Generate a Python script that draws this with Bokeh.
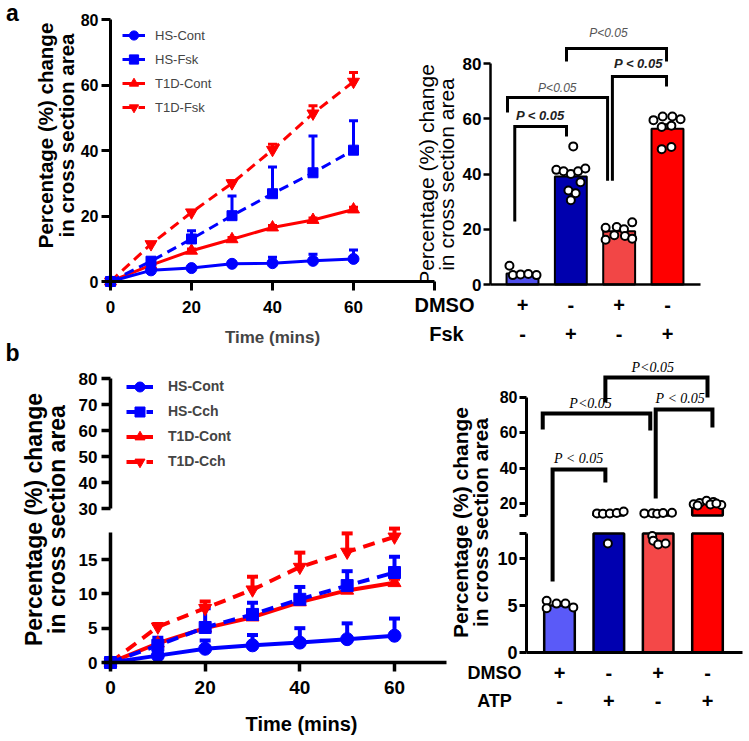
import math
from bokeh.plotting import figure
from bokeh.models import (Range1d, LinearAxis, FixedTicker, Whisker, TeeHead,
                          Label, Legend, ColumnDataSource)
from bokeh.embed import file_html
from bokeh.resources import INLINE
from bokeh.core.properties import value

# ---------------- data ----------------
time_mins = [0, 10, 20, 30, 40, 50, 60]

a_hs_cont = [0, 3.4, 4.1, 5.4, 5.6, 6.3, 6.9]
a_hs_cont_err = [0, 0.4, 0.4, 0.5, 1.8, 2.0, 2.7]
a_hs_fsk = [0, 6.2, 13.0, 20.1, 26.8, 33.2, 40.1]
a_hs_fsk_err = [0, 1.0, 2.5, 6.0, 8.2, 11.2, 9.0]
a_t1d_cont = [0, 5.0, 9.4, 12.9, 16.5, 18.8, 22.0]
a_t1d_cont_err = [0, 0.3, 0.5, 0.5, 0.6, 0.6, 0.7]
a_t1d_fsk = [0, 11.4, 21.1, 30.0, 40.2, 51.3, 61.0]
a_t1d_fsk_err = [0, 0.4, 0.6, 0.8, 1.7, 2.4, 2.8]

b_hs_cont = [0, 1.0, 2.0, 2.5, 2.9, 3.4, 3.9]
b_hs_cont_err = [0, 0.6, 1.2, 1.5, 2.1, 2.3, 2.5]
b_hs_cch = [0, 2.5, 5.1, 7.0, 9.2, 11.2, 13.1]
b_hs_cch_err = [0, 1.1, 2.8, 1.7, 1.8, 2.1, 2.3]
b_t1d_cont = [0, 2.8, 5.0, 6.6, 8.8, 10.5, 11.6]
b_t1d_cont_err = [0, 0.3, 0.4, 0.5, 0.5, 0.5, 0.6]
b_t1d_cch = [0, 5.2, 7.9, 10.6, 13.9, 16.1, 18.3]
b_t1d_cch_err = [0, 0.4, 1.0, 1.9, 2.1, 2.7, 1.2]

bar_pos = [1, 2, 3, 4]
a_dmso = ["+", "-", "+", "-"]
a_fsk = ["-", "+", "-", "+"]
a_bar_mean = [4.0, 39.1, 19.3, 56.4]
a_bar_sem = [0.6, 1.8, 0.7, 1.6]
a_dot_off = [[-0.27, -0.2, -0.04, 0.12, 0.29],
             [0.05, -0.3, -0.15, 0.0, 0.15, 0.3, 0.2, -0.05, 0.1, 0.0],
             [-0.28, -0.05, 0.1, 0.27, -0.28, -0.1, 0.12, 0.27],
             [-0.29, -0.1, 0.1, 0.27, -0.12, 0.08, -0.12, 0.08]]
a_dot_val = [[6.8, 3.4, 3.6, 3.8, 3.4],
             [50.0, 41.5, 41.0, 40.0, 41.0, 42.0, 37.0, 34.0, 33.0, 30.5],
             [20.5, 20.8, 20.0, 22.5, 16.2, 17.8, 17.6, 16.6],
             [59.5, 60.8, 60.8, 59.8, 57.0, 57.5, 49.0, 49.8]]

b_dmso = ["+", "-", "+", "-"]
b_atp = ["-", "+", "-", "+"]
b_bar_mean = [5.0, 14.1, 13.3, 19.7]
b_bar_sem = [0.15, 0.5, 0.4, 0.3]
b_dot_off = [[-0.26, -0.06, 0.12, -0.26, 0.28],
             [-0.24, -0.12, 0.02, 0.16, 0.30, -0.02],
             [-0.28, -0.12, -0.02, 0.1, 0.28, -0.12, -0.1, 0.0, 0.15],
             [-0.28, -0.16, -0.02, 0.12, 0.28, -0.2, 0.06, 0.18]]
b_dot_val = [[5.5, 5.2, 5.2, 4.7, 4.8],
             [14.4, 14.2, 14.3, 14.6, 15.5, 11.6],
             [14.4, 14.5, 14.2, 14.6, 14.8, 12.4, 11.9, 11.5, 11.6],
             [19.6, 20.3, 21.6, 20.8, 19.2, 18.9, 19.5, 20.0]]

# significance brackets (bar units / axis units)
a_brk_x = [(0.84, 1.91), (0.69, 2.76), (2.86, 3.98), (1.91, 3.98)]
a_brk_y = [(22.8, 57.2, 53.6), (62.3, 67.7, 37.6), (37.6, 75.3, 71.7), (80.7, 85.4, 80.7)]
a_p_text = ["P < 0.05", "P<0.05", "P < 0.05", "P<0.05"]
a_p_pos = [(1.37, 61.2), (1.72, 71.3), (3.40, 80.0), (2.78, 90.9)]

b_brk_x = [(0.86, 1.93), (0.66, 2.84), (2.95, 4.1), (1.93, 4.0)]
b_brk_left_base = [7.55, 61.9, 22.8, 77.2]
b_brk_left_seg = ["lower", "upper", "upper", "upper"]
b_brk_top = [39.2, 70.9, 73.2, 91.3]
b_brk_right_base = [31.9, 61.3, 63.0, 80.0]
b_p_text = ["P < 0.05", "P<0.05", "P < 0.05", "P<0.05"]
b_p_pos = [(1.39, 45.5), (1.63, 76.6), (3.45, 79.4), (2.89, 97.0)]

BLUE = "#0000FF"
RED = "#FF0000"
a_bar_colors = ["#5050EC", "#0000AE", "#F24646", "#FF0000"]
b_bar_colors = ["#5A5AF8", "#0000B0", "#F44848", "#FF0000"]
FONT = "Liberation Sans"

# ---------------- geometry helpers ----------------
W, H = 747, 739
OX, OY = 0, 0


class Scale:
    def __init__(self, v0, p0, v1, p1):
        self.v0, self.p0 = v0, p0
        self.k = (v1 - v0) / (p1 - p0)

    def v(self, px):
        return self.v0 + (px - self.p0) * self.k

    def p(self, v):
        return self.p0 + (v - self.v0) / self.k

    def xrange(self):
        return Range1d(start=self.v(OX), end=self.v(OX + W))

    def yrange(self):
        return Range1d(start=self.v(OY + H), end=self.v(OY))


page_x = Scale(0, 0, 1, 1)
page_y = Scale(0, 0, 1, 1)
sx = {"a1": Scale(0, 110, 60, 353), "a2": Scale(1, 522, 4, 667),
      "b1": Scale(0, 110, 60, 394), "b2": Scale(1, 559, 4, 707)}
sy = {"a1": Scale(0, 281, 80, 19), "a2": Scale(0, 284, 80, 63),
      "b1l": Scale(0, 662, 15, 559), "b1u": Scale(30, 508, 80, 378),
      "b2l": Scale(0, 652, 10, 558), "b2u": Scale(20, 503, 80, 397)}

p = figure(width=W, height=H, x_range=page_x.xrange(), y_range=page_y.yrange(),
           x_axis_type=None, y_axis_type=None, toolbar_location=None,
           output_backend="svg", min_border=0, title=None)
p.outline_line_color = None
p.background_fill_color = "white"
p.border_fill_color = "white"
p.extra_x_ranges = {k + "x": s.xrange() for k, s in sx.items()}
p.extra_y_ranges = {k + "y": s.yrange() for k, s in sy.items()}


def add_axis(side, xr, yr, loc, bounds, ticks, size, tick_out, lw, standoff,
             overrides=None):
    ax = LinearAxis(x_range_name=xr, y_range_name=yr, fixed_location=loc,
                    bounds=bounds, ticker=FixedTicker(ticks=ticks, minor_ticks=[]))
    ax.axis_line_width = lw
    ax.axis_line_color = "black"
    ax.major_tick_line_width = lw
    ax.major_tick_line_color = "black"
    ax.major_tick_out = tick_out
    ax.major_tick_in = 0
    ax.minor_tick_out = 0
    ax.minor_tick_in = 0
    ax.major_label_text_font = FONT
    ax.major_label_text_font_size = f"{size}px"
    ax.major_label_text_font_style = "bold"
    ax.major_label_text_color = "black"
    ax.major_label_standoff = standoff
    if overrides:
        ax.major_label_overrides = overrides
    p.add_layout(ax, side)
    return ax


def label(text, x, y, size, style="bold", angle=0.0, font=FONT, color="black"):
    p.add_layout(Label(x=x, y=y, text=text, angle=angle, text_font=font,
                       text_font_size=f"{size}px", text_font_style=style,
                       text_color=color, text_align="center",
                       text_baseline="middle"))


def series(xr, yr, ys, errs, color, dash, marker, size, lw, cap):
    src = ColumnDataSource(dict(x=time_mins, y=ys))
    esrc = ColumnDataSource(dict(
        x=[t for t, e in zip(time_mins, errs) if e > 0],
        y=[v for v, e in zip(ys, errs) if e > 0],
        top=[v + e for v, e in zip(ys, errs) if e > 0]))
    p.add_layout(Whisker(source=esrc, base="x", lower="y", upper="top",
                         line_color=color, line_width=lw,
                         upper_head=TeeHead(size=cap, line_color=color, line_width=lw),
                         lower_head=None, x_range_name=xr, y_range_name=yr))
    ln = p.line("x", "y", source=src, line_color=color, line_width=lw,
                line_dash=dash, x_range_name=xr, y_range_name=yr)
    mk = p.scatter("x", "y", source=src, marker=marker, size=size,
                   fill_color=color, line_color=color, x_range_name=xr,
                   y_range_name=yr)
    return [ln, mk]


# ================= panel a, left: time course =================
add_axis("left", "a1x", "a1y", 0, (0, 80), [0, 20, 40, 60, 80], 16, 9, 3, 3)
ax_a1 = add_axis("below", "a1x", "a1y", 0, (0, 80), [0, 20, 40, 60, 80], 17, 9, 3, 7,
                 overrides={80: " "})
ax_a1.axis_label = "Time (mins)"
ax_a1.axis_label_text_font = FONT
ax_a1.axis_label_text_font_size = "17px"
ax_a1.axis_label_text_font_style = "bold"
ax_a1.axis_label_standoff = 8

r_a_t1d_fsk = series("a1x", "a1y", a_t1d_fsk, a_t1d_fsk_err, RED, "10 6", "inverted_triangle", 12, 3, 9)
r_a_t1d_cont = series("a1x", "a1y", a_t1d_cont, a_t1d_cont_err, RED, "solid", "triangle", 12, 3, 9)
r_a_hs_fsk = series("a1x", "a1y", a_hs_fsk, a_hs_fsk_err, BLUE, "10 6", "square", 10, 3, 9)
r_a_hs_cont = series("a1x", "a1y", a_hs_cont, a_hs_cont_err, BLUE, "solid", "circle", 11, 3, 9)

leg_a = Legend(items=[("HS-Cont", r_a_hs_cont), ("HS-Fsk", r_a_hs_fsk),
                      ("T1D-Cont", r_a_t1d_cont), ("T1D-Fsk", r_a_t1d_fsk)],
               location=(122 - OX, H + OY - 23 - 96), glyph_width=23, glyph_height=24,
               label_height=24, spacing=0, padding=0, margin=0, label_standoff=10,
               border_line_color=None, background_fill_alpha=0,
               label_text_font=FONT, label_text_font_size="13px")
p.add_layout(leg_a)

label("a", 12, 12, 23)
label("Percentage (%) change", 45, 135, 20.5, angle=math.pi / 2)
label("in cross section area", 66, 135, 20.5, angle=math.pi / 2)

# ================= panel a, right: bars =================
a2x, a2y = sx["a2"], sy["a2"]
add_axis("left", "a2x", "a2y", a2x.v(490), (0, 80), [0, 20, 40, 60, 80], 17, 7, 2.5, 2)
add_axis("below", "a2x", "a2y", 0, (a2x.v(490), a2x.v(700)), [], 10, 0, 2.5, 0)

p.vbar(x=bar_pos, top=a_bar_mean, bottom=0, width=0.66, fill_color=a_bar_colors,
       line_color="black", line_width=2, x_range_name="a2x", y_range_name="a2y")
wsrc_a = ColumnDataSource(dict(x=bar_pos, lo=[m - s for m, s in zip(a_bar_mean, a_bar_sem)],
                               hi=[m + s for m, s in zip(a_bar_mean, a_bar_sem)]))
p.add_layout(Whisker(source=wsrc_a, base="x", lower="lo", upper="hi", line_color="black",
                     line_width=2, upper_head=TeeHead(size=12, line_width=2),
                     lower_head=TeeHead(size=12, line_width=2),
                     x_range_name="a2x", y_range_name="a2y"))
p.scatter(x=[b + o for b, offs in zip(bar_pos, a_dot_off) for o in offs],
          y=[v for vals in a_dot_val for v in vals], marker="circle", size=8,
          fill_color="white", line_color="black", line_width=2,
          x_range_name="a2x", y_range_name="a2y")

p.multi_line(xs=[[x1, x1, x2, x2] for x1, x2 in a_brk_x],
             ys=[[y1, yt, yt, y2] for y1, yt, y2 in a_brk_y],
             line_color="black", line_width=3, line_join="miter",
             x_range_name="a2x", y_range_name="a2y")
for txt, (tx, ty) in zip(a_p_text, a_p_pos):
    bold = " " in txt
    p.text(x=[tx], y=[ty], text=[txt], text_align="center", text_baseline="middle",
           text_font=value(FONT), text_font_size="13px" if bold else "12px",
           text_font_style="bold italic" if bold else "italic",
           text_color="#222222" if bold else "#555555",
           x_range_name="a2x", y_range_name="a2y")

p.text(x=bar_pos, y=[a2y.v(304)] * 4, text=a_dmso, text_align="center",
       text_baseline="middle", text_font=value(FONT), text_font_size="20px",
       text_font_style="bold", x_range_name="a2x", y_range_name="a2y")
p.text(x=bar_pos, y=[a2y.v(333)] * 4, text=a_fsk, text_align="center",
       text_baseline="middle", text_font=value(FONT), text_font_size="20px",
       text_font_style="bold", x_range_name="a2x", y_range_name="a2y")
label("DMSO", 444, 304, 20)
label("Fsk", 446, 333, 20)
label("Percentage (%) change", 426, 174, 21, style="normal", angle=math.pi / 2)
label("in cross section area", 446, 174, 21, style="normal", angle=math.pi / 2)

# ================= panel b, left: time course (broken axis) =================
b1x, b1l, b1u = sx["b1"], sy["b1l"], sy["b1u"]
add_axis("left", "b1x", "b1ly", 0, (0, b1l.v(532)), [0, 5, 10, 15], 17, 9, 3.5, 4)
add_axis("left", "b1x", "b1uy", 0, (30, 80), [30, 40, 50, 60, 70, 80], 17, 9, 3.5, 4)
add_axis("below", "b1x", "b1ly", 0, (0, b1x.v(446)), [0, 20, 40, 60], 19, 9, 3.5, 9)

r_b_t1d_cch = series("b1x", "b1ly", b_t1d_cch, b_t1d_cch_err, RED, "12 8", "inverted_triangle", 13, 4, 11)
r_b_t1d_cont = series("b1x", "b1ly", b_t1d_cont, b_t1d_cont_err, RED, "solid", "triangle", 13, 4, 11)
r_b_hs_cch = series("b1x", "b1ly", b_hs_cch, b_hs_cch_err, BLUE, "12 8", "square", 12, 4, 11)
r_b_hs_cont = series("b1x", "b1ly", b_hs_cont, b_hs_cont_err, BLUE, "solid", "circle", 13, 4, 11)

leg_b = Legend(items=[("HS-Cont", r_b_hs_cont), ("HS-Cch", r_b_hs_cch),
                      ("T1D-Cont", r_b_t1d_cont), ("T1D-Cch", r_b_t1d_cch)],
               location=(126 - OX, H + OY - 373.5 - 100), glyph_width=27, glyph_height=25,
               label_height=25, spacing=0, padding=0, margin=0, label_standoff=15,
               border_line_color=None, background_fill_alpha=0,
               label_text_font=FONT, label_text_font_size="14px",
               label_text_font_style="bold")
p.add_layout(leg_b)

label("b", 12, 352, 23)
label("Percentage (%) change", 33, 519, 23, angle=math.pi / 2)
label("in cross section area", 56, 519, 23, angle=math.pi / 2)
label("Time (mins)", 301, 723, 20)

# ================= panel b, right: bars (broken axis) =================
b2x, b2l, b2u = sx["b2"], sy["b2l"], sy["b2u"]
lower_top = round(b2l.v(533), 3)
upper_bottom = round(b2u.v(515), 3)
ax_loc = b2x.v(526)
add_axis("left", "b2x", "b2ly", ax_loc, (0, lower_top), [0, 5, 10, lower_top], 18, 7, 3, 2,
         overrides={lower_top: " "})
add_axis("left", "b2x", "b2uy", ax_loc, (upper_bottom, 80), [upper_bottom, 20, 40, 60, 80],
         16, 7, 3, 2, overrides={upper_bottom: " "})
add_axis("below", "b2x", "b2ly", 0, (ax_loc, b2x.v(742)), [], 10, 0, 3, 0)

p.vbar(x=bar_pos, top=[min(m, lower_top) for m in b_bar_mean], bottom=0, width=0.62,
       fill_color=b_bar_colors, line_color="black", line_width=2.5,
       x_range_name="b2x", y_range_name="b2ly")
up_idx = [i for i, m in enumerate(b_bar_mean) if m > upper_bottom]
p.vbar(x=[bar_pos[i] for i in up_idx], top=[b_bar_mean[i] for i in up_idx],
       bottom=upper_bottom, width=0.62, fill_color=[b_bar_colors[i] for i in up_idx],
       line_color="black", line_width=2.5, x_range_name="b2x", y_range_name="b2uy")
wsrc_b = ColumnDataSource(dict(x=bar_pos[:1], lo=[b_bar_mean[0] - b_bar_sem[0]],
                               hi=[b_bar_mean[0] + b_bar_sem[0]]))
p.add_layout(Whisker(source=wsrc_b, base="x", lower="lo", upper="hi", line_color="black",
                     line_width=2, upper_head=TeeHead(size=14, line_width=2),
                     lower_head=TeeHead(size=14, line_width=2),
                     x_range_name="b2x", y_range_name="b2ly"))
dots = [(b + o, v) for b, offs, vals in zip(bar_pos, b_dot_off, b_dot_val)
        for o, v in zip(offs, vals)]
p.scatter(x=[d[0] for d in dots if d[1] <= lower_top], y=[d[1] for d in dots if d[1] <= lower_top],
          marker="circle", size=8, fill_color="white", line_color="black", line_width=2,
          x_range_name="b2x", y_range_name="b2ly")
p.scatter(x=[d[0] for d in dots if d[1] >= upper_bottom], y=[d[1] for d in dots if d[1] >= upper_bottom],
          marker="circle", size=8, fill_color="white", line_color="black", line_width=2,
          x_range_name="b2x", y_range_name="b2uy")

left_base_u = [b2u.v(b2l.p(v)) if seg == "lower" else v
               for v, seg in zip(b_brk_left_base, b_brk_left_seg)]
p.multi_line(xs=[[x1, x1, x2, x2] for x1, x2 in b_brk_x],
             ys=[[y1, yt, yt, y2] for y1, yt, y2 in zip(left_base_u, b_brk_top, b_brk_right_base)],
             line_color="black", line_width=4, line_join="miter",
             x_range_name="b2x", y_range_name="b2uy")
p.text(x=[q[0] for q in b_p_pos], y=[q[1] for q in b_p_pos], text=b_p_text,
       text_align="center", text_baseline="middle", text_font=value("Liberation Serif"),
       text_font_size="14px", text_font_style="italic",
       x_range_name="b2x", y_range_name="b2uy")

p.text(x=bar_pos, y=[b2l.v(672)] * 4, text=b_dmso, text_align="center",
       text_baseline="middle", text_font=value(FONT), text_font_size="20px",
       text_font_style="bold", x_range_name="b2x", y_range_name="b2ly")
p.text(x=bar_pos, y=[b2l.v(700)] * 4, text=b_atp, text_align="center",
       text_baseline="middle", text_font=value(FONT), text_font_size="20px",
       text_font_style="bold", x_range_name="b2x", y_range_name="b2ly")
label("DMSO", 494, 672, 18)
label("ATP", 494, 700, 18)
label("Percentage (%) change", 460, 522, 21, angle=math.pi / 2)
label("in cross section area", 480, 522, 21, angle=math.pi / 2)

open("out.html", "w").write(file_html(p, INLINE))
